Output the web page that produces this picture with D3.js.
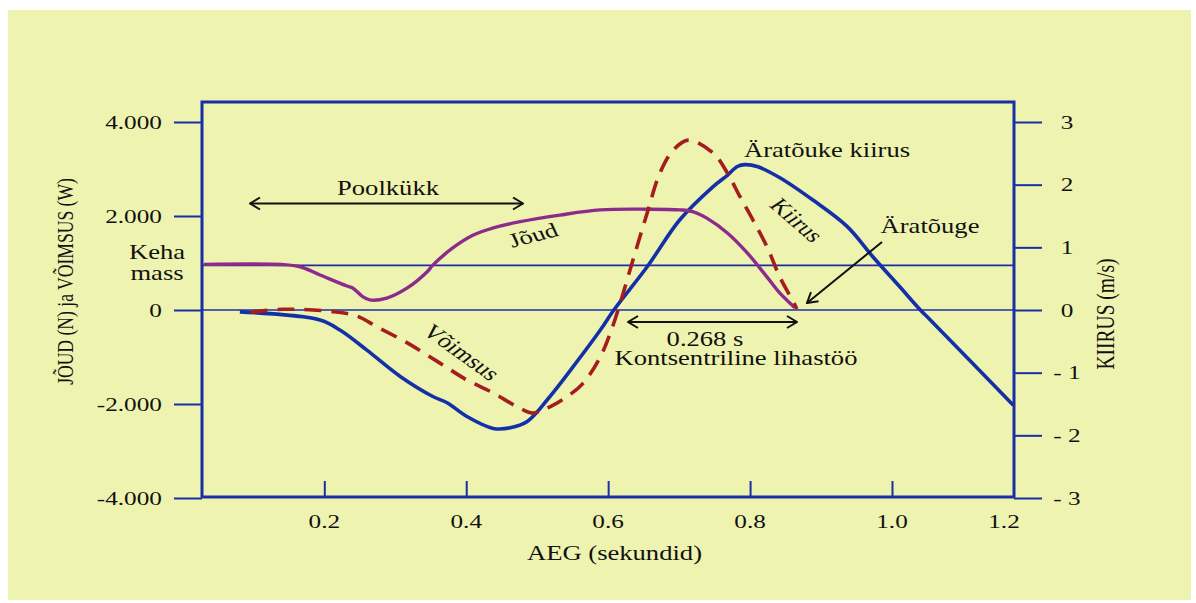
<!DOCTYPE html>
<html>
<head>
<meta charset="utf-8">
<script src="https://cdn.jsdelivr.net/npm/d3@7/dist/d3.min.js"></script>
<style>
  html, body { margin: 0; padding: 0; background: #ffffff; }
  svg { display: block; }
  text { font-family: "Liberation Serif", "Times New Roman", "DejaVu Serif", serif; fill: #111; }
</style>
</head>
<body>
<svg id="chart" width="1196" height="603"></svg>
<script>
// ---------------- data ----------------
const xTickValues = [0.2, 0.4, 0.6, 0.8, 1.0];
const xTickLabels = ["0.2", "0.4", "0.6", "0.8", "1.0", "1.2"];
const xLabelValues = [0.2, 0.4, 0.6, 0.8, 1.0, 1.2];
const leftTickValues = [4000, 2000, 0, -2000, -4000];
const leftTickLabels = ["4.000", "2.000", "0", "-2.000", "-4.000"];
const rightTickValues = [3, 2, 1, 0, -1, -2, -3];
const rightTickLabels = ["3", "2", "1", "0", "- 1", "- 2", "- 3"];
const bodyMass = 950;

// Jõud (force, N) – left axis
const forceT = [0.03, 0.14, 0.166, 0.194, 0.232, 0.240, 0.254, 0.264, 0.288, 0.317, 0.345, 0.353, 0.381, 0.41, 0.438, 0.476, 0.532, 0.589, 0.655, 0.701, 0.72, 0.739, 0.768, 0.796, 0.824, 0.842, 0.856, 0.863];
const forceN = [970, 968, 920, 745, 510, 470, 285, 215, 255, 470, 815, 955, 1320, 1595, 1745, 1880, 2020, 2130, 2145, 2130, 2090, 1955, 1640, 1215, 700, 360, 150, 45];

// Võimsus (power, W) – left axis
const powerT = [0.096, 0.142, 0.212, 0.246, 0.274, 0.317, 0.363, 0.401, 0.438, 0.472, 0.493, 0.518, 0.542, 0.565, 0.589, 0.603, 0.614, 0.635, 0.655, 0.673, 0.692, 0.713, 0.748, 0.768, 0.786, 0.804, 0.824, 0.842, 0.861, 0.866];
const powerW = [-50, 15, -35, -130, -355, -700, -1130, -1490, -1765, -2060, -2190, -2060, -1845, -1555, -995, -490, 0, 1065, 2065, 2915, 3405, 3615, 3340, 2915, 2405, 1915, 1340, 700, 170, 20];

// Kiirus (velocity, m/s) – right axis
const velT = [0.081, 0.194, 0.222, 0.26, 0.307, 0.353, 0.373, 0.401, 0.438, 0.462, 0.486, 0.518, 0.551, 0.589, 0.608, 0.655, 0.701, 0.748, 0.768, 0.782, 0.793, 0.81, 0.842, 0.889, 0.937, 0.973, 1.011, 1.04, 1.054, 1.171];
const velV = [-0.03, -0.16, -0.32, -0.64, -1.06, -1.38, -1.48, -1.70, -1.89, -1.88, -1.78, -1.38, -0.90, -0.32, 0, 0.69, 1.44, 1.97, 2.15, 2.29, 2.32, 2.29, 2.11, 1.75, 1.33, 0.85, 0.37, 0, -0.16, -1.52];

// ---------------- layout ----------------
const svg = d3.select("#chart");
const SX = 1.33;          // horizontal stretch of the original picture
const frame = { left: 202, right: 1014, top: 102, bottom: 497 };
const BLUE = "#1a2ea6", LINEBLUE = "#1430a8", PURPLE = "#8d2b8d", RED = "#a51e1e";

const x = d3.scaleLinear().domain([0.2, 1.0]).range([324.3, 892]);
const yL = d3.scaleLinear().domain([-4000, 4000]).range([498, 122]);
const yR = d3.scaleLinear().domain([-3, 3]).range([498, 122]);

// background
svg.append("rect").attr("x", 8).attr("y", 10).attr("width", 1183).attr("height", 590).attr("fill", "#eef3b0");

// markers
const defs = svg.append("defs");
defs.append("marker").attr("id", "chev").attr("viewBox", "0 0 12 14")
  .attr("refX", 11).attr("refY", 7).attr("markerWidth", 12).attr("markerHeight", 14)
  .attr("markerUnits", "userSpaceOnUse").attr("orient", "auto-start-reverse")
  .append("path").attr("d", "M1,1 L11,7 L1,13").attr("fill", "none").attr("stroke", "#111").attr("stroke-width", 2);

// reference lines
[0, bodyMass].forEach(v => {
  svg.append("line").attr("x1", frame.left).attr("x2", frame.right)
    .attr("y1", yL(v)).attr("y2", yL(v)).attr("stroke", BLUE).attr("stroke-width", 1.6);
});

// axes ticks
const gl = svg.append("g").attr("transform", `translate(${frame.left},0)`)
  .call(d3.axisLeft(yL).tickValues(leftTickValues).tickSize(28).tickFormat(() => ""));
const gr = svg.append("g").attr("transform", `translate(${frame.right},0)`)
  .call(d3.axisRight(yR).tickValues(rightTickValues).tickSize(28).tickFormat(() => ""));
const gb = svg.append("g").attr("transform", `translate(0,${frame.bottom})`)
  .call(d3.axisTop(x).tickValues(xTickValues).tickSize(16).tickFormat(() => ""));
[gl, gr, gb].forEach(g => {
  g.select(".domain").remove();
  g.selectAll(".tick line").attr("stroke", BLUE).attr("stroke-width", 2);
});

// frame
svg.append("rect").attr("x", frame.left).attr("y", frame.top)
  .attr("width", frame.right - frame.left).attr("height", frame.bottom - frame.top)
  .attr("fill", "none").attr("stroke", BLUE).attr("stroke-width", 3);

// curves
const zip = (a, b) => a.map((t, i) => [t, b[i]]);
const curve = d3.curveCatmullRom.alpha(0.5);
const lineL = d3.line().x(d => x(d[0])).y(d => yL(d[1])).curve(curve);
const lineR = d3.line().x(d => x(d[0])).y(d => yR(d[1])).curve(curve);

svg.append("path").attr("d", lineR(zip(velT, velV))).attr("fill", "none")
  .attr("stroke", LINEBLUE).attr("stroke-width", 3.6).attr("stroke-linejoin", "round");
svg.append("path").attr("d", lineL(zip(forceT, forceN))).attr("fill", "none")
  .attr("stroke", PURPLE).attr("stroke-width", 3.4).attr("stroke-linejoin", "round");
svg.append("path").attr("d", lineL(zip(powerT, powerW))).attr("fill", "none")
  .attr("stroke", RED).attr("stroke-width", 3.6).attr("stroke-dasharray", "17,10");

// text helper (stretched horizontally like the original)
function stext(px, py, str, size, opts = {}) {
  const sx = opts.sx || SX, rot = opts.rot || 0;
  return svg.append("text")
    .attr("transform", `translate(${px},${py}) scale(${sx},1) rotate(${rot})`)
    .attr("text-anchor", opts.anchor || "middle")
    .attr("dy", "0.35em")
    .style("font-size", size + "px")
    .text(str);
}
const rotFor = deg => Math.atan(Math.tan(deg * Math.PI / 180) * SX) * 180 / Math.PI;

// tick labels
leftTickValues.forEach((v, i) => stext(162, yL(v), leftTickLabels[i], 19, { anchor: "end" }));
rightTickValues.forEach((v, i) => stext(1067, yR(v), rightTickLabels[i], 19));
xLabelValues.forEach((v, i) => stext(Math.min(x(v), frame.right - 10), 521, xTickLabels[i], 19));

// axis titles
stext(65, 281.5, "JÕUD (N) ja VÕIMSUS (W)", 17.6, { rot: -90 });
stext(1105, 314, "KIIRUS (m/s)", 19.5, { rot: -90 });
stext(614.5, 553, "AEG (sekundid)", 20);

// annotations
stext(157, 252, "Keha", 20);
stext(157, 273, "mass", 20);
stext(388, 188, "Poolkükk", 20);
stext(533, 235, "Jõud", 20, { rot: rotFor(-14.5) });
stext(462, 352, "Võimsus", 20, { rot: rotFor(35.5) });
stext(797, 220, "Kiirus", 20, { rot: rotFor(41) });
stext(827, 150, "Äratõuke kiirus", 20);
stext(930, 226, "Äratõuge", 20);
stext(705, 339, "0.268 s", 20);
stext(736, 358, "Kontsentriline lihastöö", 20);

// arrows
function arrow(x1, y1, x2, y2, both) {
  const l = svg.append("line").attr("x1", x1).attr("y1", y1).attr("x2", x2).attr("y2", y2)
    .attr("stroke", "#111").attr("stroke-width", 2).attr("marker-end", "url(#chev)");
  if (both) l.attr("marker-start", "url(#chev)");
}
arrow(250, 203.5, 523, 203.5, true);
arrow(628, 322, 797, 322, true);
arrow(882, 242, 807, 303, false);
</script>
</body>
</html>
